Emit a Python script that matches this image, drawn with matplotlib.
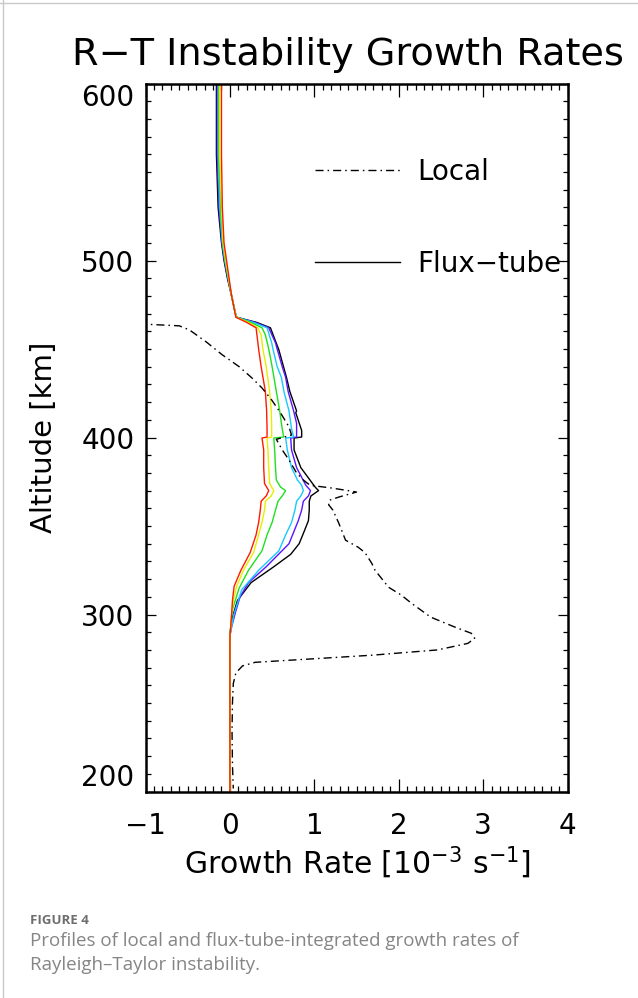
import matplotlib
matplotlib.use('Agg')
import matplotlib.pyplot as plt
from matplotlib.lines import Line2D
from matplotlib.ticker import MultipleLocator

plt.rcParams['font.family'] = ['DejaVu Sans']

# flux-tube integrated growth rates (10^-3 s^-1) vs altitude (km), one per colour
black_alt = [600, 560, 530, 510, 500, 490, 480, 468, 465, 462, 449.5, 434, 426, 415, 414, 404, 400.3, 399.7,
             393, 383, 372, 370, 367, 364, 359, 353, 347, 340, 334, 327, 318, 308, 297, 289, 200]
black_x = [-0.16, -0.16, -0.14, -0.10, -0.07, -0.03, 0.02, 0.075, 0.32, 0.48, 0.58, 0.67, 0.71, 0.79, 0.78, 0.85,
           0.85, 0.76, 0.76, 0.84, 1.01, 1.05, 0.96, 0.94, 0.94, 0.93, 0.88, 0.82, 0.72, 0.52, 0.25, 0.09, 0.02,
           0.0, 0.0]

violet_alt = [600, 560, 530, 510, 500, 490, 480, 468, 465, 462, 453.5, 450, 440, 434, 426, 415, 408, 400.3, 399.7,
              393, 383, 373, 370, 367, 364, 359, 353, 340, 327, 318, 310, 302, 293, 288, 200]
violet_x = [-0.15, -0.15, -0.13, -0.095, -0.065, -0.025, 0.02, 0.075, 0.30, 0.46, 0.54, 0.56, 0.62, 0.66, 0.69,
            0.755, 0.79, 0.79, 0.72, 0.73, 0.79, 0.90, 0.955, 0.93, 0.87, 0.85, 0.81, 0.70, 0.43, 0.22, 0.12, 0.07,
            0.02, 0.0, 0.0]

cyan_alt = [600, 560, 530, 510, 500, 490, 480, 468, 465, 462, 453.5, 450, 440, 434, 426, 415, 405, 400.3, 399.7,
            393, 383, 376, 373, 370, 367, 364, 359, 352, 345, 336, 325, 314, 300, 293, 288, 200]
cyan_x = [-0.14, -0.14, -0.12, -0.09, -0.06, -0.02, 0.02, 0.075, 0.28, 0.44, 0.495, 0.51, 0.56, 0.61, 0.64, 0.70,
          0.73, 0.755, 0.66, 0.68, 0.73, 0.80, 0.85, 0.87, 0.84, 0.79, 0.77, 0.73, 0.66, 0.58, 0.34, 0.14, 0.047,
          0.02, 0.0, 0.0]

green_alt = [600, 560, 530, 510, 500, 490, 480, 468, 465, 462, 458, 450, 440, 426, 415, 408, 405, 400.3, 399.7,
             393, 383, 376, 372, 370, 367, 364, 359, 352, 345, 336, 325, 315, 302, 293, 288, 200]
green_x = [-0.13, -0.13, -0.11, -0.085, -0.055, -0.02, 0.02, 0.075, 0.25, 0.38, 0.42, 0.46, 0.50, 0.55, 0.59,
           0.61, 0.62, 0.637, 0.52, 0.53, 0.54, 0.55, 0.60, 0.66, 0.62, 0.57, 0.54, 0.50, 0.44, 0.38, 0.22, 0.11,
           0.024, 0.01, 0.0, 0.0]

yellow_alt = [600, 560, 530, 510, 500, 490, 480, 468, 465, 462, 458, 450, 440, 426, 415, 405, 400.3, 399.7,
              393, 383, 374, 370, 367, 364, 359, 352, 345, 335, 325, 316, 308, 300, 293, 288, 200]
yellow_x = [-0.12, -0.12, -0.10, -0.08, -0.05, -0.015, 0.02, 0.075, 0.22, 0.33, 0.37, 0.39, 0.43, 0.47, 0.49,
            0.495, 0.495, 0.44, 0.45, 0.46, 0.47, 0.52, 0.49, 0.42, 0.41, 0.38, 0.34, 0.28, 0.16, 0.08, 0.04,
            0.02, 0.01, 0.0, 0.0]

red_alt = [600, 560, 530, 510, 500, 490, 480, 468, 465, 462, 458, 450, 440, 426, 415, 405, 400.3, 399.7,
           393, 383, 374, 370, 367, 364, 359, 352, 345, 335, 325, 316, 308, 300, 293, 288, 200]
red_x = [-0.10, -0.10, -0.09, -0.07, -0.04, -0.01, 0.02, 0.07, 0.20, 0.31, 0.32, 0.34, 0.37, 0.42, 0.435, 0.44,
         0.44, 0.38, 0.40, 0.40, 0.41, 0.46, 0.43, 0.37, 0.36, 0.34, 0.31, 0.24, 0.13, 0.05, 0.03, 0.02, 0.01,
         0.0, 0.0]

# local growth rate (dash-dot)
local_alt = [464.2, 463.1, 460.8, 454.0, 446.7, 440.0, 433.7, 428.0, 421.2, 413.9,
             406.0, 401.4, 399.0, 393.0, 387.3, 380.0, 376.0, 373.0, 371.5, 370.0,
             369.2, 368.5, 366.5, 364.6, 362.0, 359.0, 351.6, 342.0, 338.0, 335.0,
             329.0, 325.0, 315.4, 311.0, 306.4, 298.5, 293.0, 289.4, 286.6, 283.7,
             280.0, 277.0, 274.7, 273.0, 271.0, 267.0, 261.0, 250.0, 234.5, 215.0, 201.7]
local_x = [-1.08, -0.60, -0.48, -0.28, -0.09, 0.11, 0.26, 0.38, 0.495, 0.60,
           0.70, 0.73, 0.55, 0.62, 0.70, 0.79, 0.87, 0.95, 1.20, 1.40,
           1.50, 1.45, 1.30, 1.18, 1.17, 1.22, 1.29, 1.37, 1.52, 1.60,
           1.68, 1.72, 1.88, 2.03, 2.15, 2.38, 2.66, 2.86, 2.90, 2.82,
           2.46, 1.68, 0.89, 0.30, 0.15, 0.07, 0.04, 0.03, 0.025, 0.03, 0.04]

flux_curves = [
    (black_x, black_alt, 'black'),
    (violet_x, violet_alt, '#5a14ff'),
    (cyan_x, cyan_alt, '#18c8ff'),
    (green_x, green_alt, '#1ee01e'),
    (yellow_x, yellow_alt, '#e6ee00'),
    (red_x, red_alt, '#ff1a00'),
]

dashdot = (0, (5.8, 2.9, 1.1, 2.9))

fig = plt.figure(figsize=(6.38, 9.98), dpi=100)
ax = fig.add_axes([0.2281, 0.2069, 0.6614, 0.7094])

for xs, alts, col in flux_curves:
    ax.plot(xs, alts, color=col, lw=1.0)
ax.plot(local_x, local_alt, color='black', lw=1.0, ls=dashdot)

ax.set_xlim(-1, 4)
ax.set_ylim(200, 600)
ax.set_xticks([-1, 0, 1, 2, 3, 4])
ax.set_yticks([200, 300, 400, 500, 600])
ax.xaxis.set_minor_locator(MultipleLocator(0.1))
ax.yaxis.set_minor_locator(MultipleLocator(10))
ax.tick_params(which='both', direction='in', top=True, right=True, width=0.9)
ax.tick_params(axis='x', which='major', length=9.5, pad=15, labelsize=20)
ax.tick_params(axis='x', which='minor', length=4.5)
ax.tick_params(axis='y', which='major', length=7, pad=8, labelsize=20)
ax.tick_params(axis='y', which='minor', length=3.5)
for s in ax.spines.values():
    s.set_linewidth(1.8)

ylabs = ax.get_yticklabels()
ylabs[0].set_va('bottom')
ylabs[-1].set_va('top')

ax.set_xlabel(r'Growth Rate $\left[\mathregular{10^{-3}\ s^{-1}}\right]$', fontsize=21.5)
ax.xaxis.set_label_coords(0.503, -0.075)
ax.set_ylabel('Altitude [km]', fontsize=21)
ax.yaxis.set_label_coords(-0.208, 0.5)

handles = [Line2D([], [], color='black', lw=1.0, ls=dashdot),
           Line2D([], [], color='black', lw=1.0)]
ax.legend(handles, ['Local', 'Flux\u2212tube'], loc='upper left', bbox_to_anchor=(0.402, 0.895),
          frameon=False, fontsize=20, handlelength=3.06, handletextpad=0.6, labelspacing=2.3,
          borderpad=0, borderaxespad=0)

fig.text(348 / 638, 1 - 55 / 998, 'R\u2212T Instability Growth Rates', ha='center', va='center', fontsize=27.5)

# caption below the chart
fig.text(30 / 638, 1 - 920 / 998, 'FIGURE 4', ha='left', va='center', fontsize=9.5,
         fontweight='bold', color='#6e6e6e', family=['Open Sans', 'DejaVu Sans'])
fig.text(30 / 638, 1 - 941 / 998, 'Profiles of local and flux-tube-integrated growth rates of',
         ha='left', va='center', fontsize=13.5, color='#858585', family=['Open Sans', 'DejaVu Sans'])
fig.text(30 / 638, 1 - 965 / 998, 'Rayleigh\u2013Taylor instability.',
         ha='left', va='center', fontsize=13.5, color='#858585', family=['Open Sans', 'DejaVu Sans'])

# thin page border at top and left
fig.add_artist(Line2D([0, 1], [1 - 3 / 998, 1 - 3 / 998], transform=fig.transFigure, color='#c8c8c8', lw=1))
fig.add_artist(Line2D([3 / 638, 3 / 638], [0, 1], transform=fig.transFigure, color='#c8c8c8', lw=1))

fig.savefig('out.png', dpi=100)
